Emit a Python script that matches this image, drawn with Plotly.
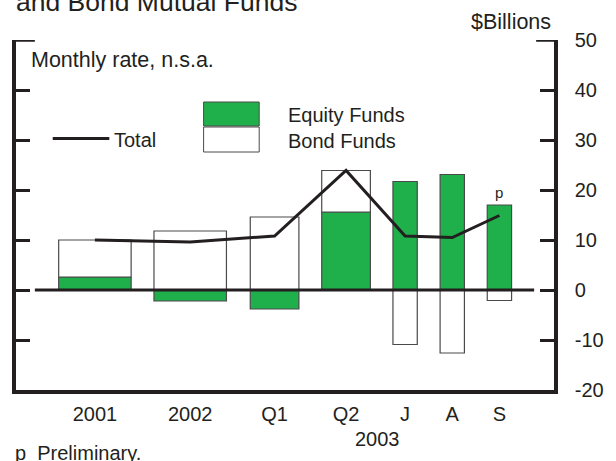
import plotly.graph_objects as go

# ---- data ----
categories = ["2001", "2002", "Q1", "Q2", "J", "A", "S"]
equity_funds = [2.6, -2.2, -3.8, 15.6, 21.7, 23.1, 17.0]
bond_funds = [7.4, 11.8, 14.6, 8.3, -10.9, -12.6, -2.1]
total = [10.0, 9.6, 10.8, 23.9, 10.8, 10.5, 14.9]
y_ticks = [-20, -10, 0, 10, 20, 30, 40, 50]
y_tick_text = ["-20", "-10", "0", "10", "20", "30", "40", "50"]

# ---- layout helpers (slot positions / widths on the x scale) ----
slot_x = [92.5, 188.5, 273.5, 345.5, 405, 452.5, 500]
slot_w = [73, 73, 49, 49, 24.5, 24.5, 24.5]

GREEN = "#1FAF4B"
INK = "#231F20"
OUTLINE = "#4a4a4a"
FONT = "Liberation Sans, Arial, Helvetica, sans-serif"

fig = go.Figure()
fig.add_trace(go.Bar(x=slot_x, y=equity_funds, width=slot_w, name="Equity Funds",
                     marker=dict(color=GREEN, line=dict(color=OUTLINE, width=1.2)),
                     showlegend=False))
fig.add_trace(go.Bar(x=slot_x, y=bond_funds, width=slot_w, name="Bond Funds",
                     marker=dict(color="white", line=dict(color=OUTLINE, width=1.2)),
                     showlegend=False))
fig.add_trace(go.Scatter(x=slot_x, y=total, mode="lines", name="Total",
                         line=dict(color=INK, width=3), showlegend=False))

fig.update_layout(
    width=616, height=461,
    margin=dict(l=12, r=61, t=40, b=71),
    barmode="relative",
    plot_bgcolor="white", paper_bgcolor="white",
    font=dict(family=FONT, color=INK, size=20),
    xaxis=dict(range=[13, 555], tickmode="array", tickvals=slot_x, ticktext=categories,
               showgrid=False, zeroline=False, showline=True, linecolor=INK, linewidth=3.5,
               ticks="", tickfont=dict(size=20), ticklabelstandoff=3, fixedrange=True),
    yaxis=dict(range=[-20, 50], side="right", tickmode="array", tickvals=y_ticks,
               ticktext=y_tick_text,
               showgrid=False, zeroline=False, showline=True, linecolor=INK, linewidth=3.5,
               mirror="ticks", ticks="inside", ticklen=14, tickwidth=3, tickcolor=INK,
               tickfont=dict(size=20), ticklabelstandoff=13, fixedrange=True),
)

shapes = [
    # zero line
    dict(type="line", xref="x", yref="y", x0=32, x1=535, y0=0, y1=0,
         line=dict(color=INK, width=3), layer="above"),
    # top corner extensions
    dict(type="line", xref="paper", yref="y", x0=0, x1=(32 - 13) / 542, y0=50, y1=50,
         line=dict(color=INK, width=3.5)),
    dict(type="line", xref="paper", yref="y", x0=(537 - 13) / 542, x1=1, y0=50, y1=50,
         line=dict(color=INK, width=3.5)),
    # legend swatches
    dict(type="rect", xref="paper", yref="paper",
         x0=(202 - 13) / 542, x1=(258 - 13) / 542,
         y0=(390 - 126) / 350, y1=(390 - 102) / 350,
         fillcolor=GREEN, line=dict(color=OUTLINE, width=1)),
    dict(type="rect", xref="paper", yref="paper",
         x0=(202 - 13) / 542, x1=(258 - 13) / 542,
         y0=(390 - 152) / 350, y1=(390 - 127) / 350,
         fillcolor="white", line=dict(color=OUTLINE, width=1)),
    dict(type="line", xref="paper", yref="paper",
         x0=(50 - 13) / 542, x1=(107 - 13) / 542,
         y0=(390 - 138.5) / 350, y1=(390 - 138.5) / 350,
         line=dict(color=INK, width=3)),
]
fig.update_layout(shapes=shapes)

def px_ann(text, x, y, size=20, xanchor="left", yanchor="middle"):
    return dict(text=text, xref="paper", yref="paper", x=(x - 13) / 542, y=(390 - y) / 350,
                xanchor=xanchor, yanchor=yanchor, showarrow=False,
                font=dict(family=FONT, size=size, color=INK))

annotations = [
    px_ann("and Bond Mutual Funds", 11, 2, size=26.5),
    px_ann("$Billions", 554, 22.5, size=21.5, xanchor="right"),
    px_ann("Monthly rate, n.s.a.", 26, 59.5, size=21.5),
    px_ann("Equity Funds", 285, 115, size=20),
    px_ann("Bond Funds", 285, 141, size=20),
    px_ann("Total", 110, 140, size=20),
    px_ann("2003", 377, 438.5, size=20, xanchor="center"),
    px_ann("p\u00a0\u00a0Preliminary.", 10, 453, size=20),
    dict(text="p", xref="x", yref="y", x=slot_x[-1], y=19.6, showarrow=False,
         font=dict(family=FONT, size=15, color=INK)),
]
fig.update_layout(annotations=annotations)

fig.write_html("out.html", config={"displayModeBar": False},
               post_script="document.body.style.margin='0';document.body.style.padding='0';")
